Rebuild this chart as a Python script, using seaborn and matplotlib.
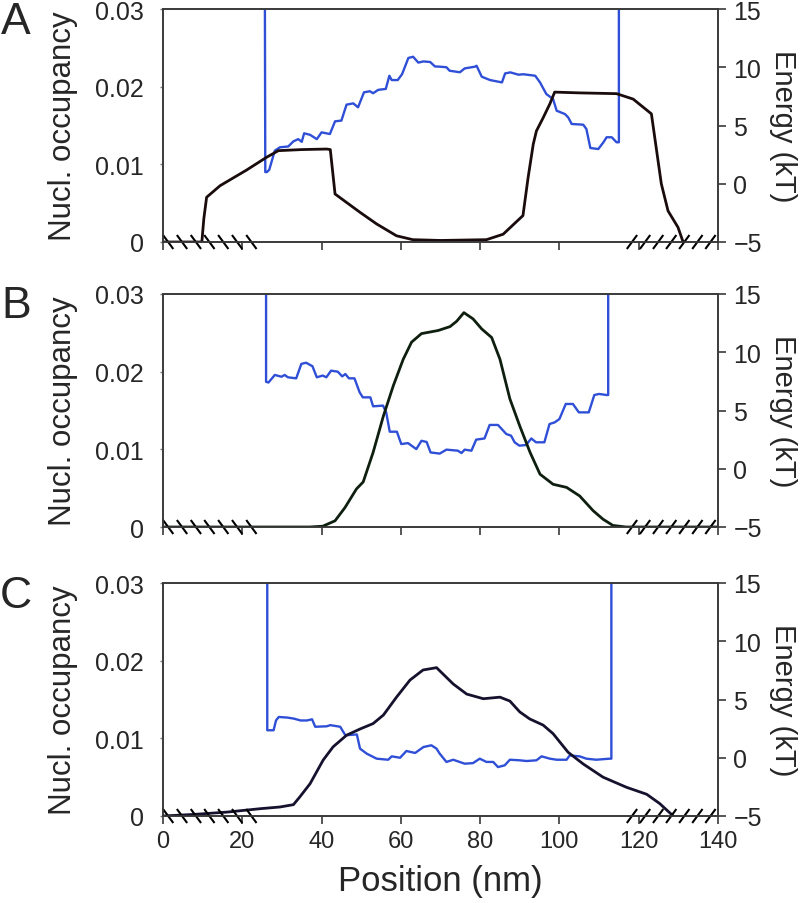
import matplotlib
matplotlib.use("Agg")
import matplotlib.pyplot as plt
import seaborn as sns
import pandas as pd

# ---------------- data ----------------
# Panel A
a_occ_x = [0, 9.8, 10.3, 11.0, 14.4, 21.1, 26.1, 29.1, 35.0, 41.3, 42.2, 43.4, 49.7, 53.9, 58.9, 63.0,
           70.0, 81.6, 85.8, 90.8, 92.1, 93.4, 94.2, 95.9, 97.6, 98.8, 105.0, 114.4, 118.6, 123.2,
           125.7, 127.4, 129.9, 131.2]
a_occ_y = [0, 0, 0.003, 0.00576, 0.00725, 0.00927, 0.0109, 0.01176, 0.0119, 0.01197, 0.0119, 0.00618,
           0.00382, 0.00232, 0.0008, 0.0003, 0.0002, 0.0003, 0.001, 0.0034, 0.0083, 0.0126, 0.0143,
           0.016, 0.0178, 0.0193, 0.0192, 0.0191, 0.0184, 0.0165, 0.0075, 0.004, 0.0019, 0]
a_en_x = [25.7, 25.8, 26.2, 26.8, 28.2, 29.5, 31.6, 32.9, 34.1, 35.0, 35.6, 37.1, 38.8, 40.0, 42.1,
          43.4, 45.0, 46.3, 48.0, 49.2, 50.7, 52.2, 53.0, 54.3, 56.2, 57.1, 57.7, 59.2, 60.3, 61.9,
          63.1, 64.4, 65.7, 67.4, 68.6, 69.8, 71.5, 72.3, 74.9, 76.1, 78.7, 79.1, 80.4, 82.5, 85.5,
          86.3, 87.6, 89.7, 90.9, 93.9, 95.1, 96.7, 98.4, 99.3, 101.4, 102.2, 103.1, 106.0, 106.8,
          107.8, 109.8, 111.1, 111.9, 113.2, 114.4, 115.0, 115.0]
a_en_y = [16, 1.0, 1.0, 1.2, 2.84, 3.13, 3.2, 3.64, 3.83, 3.6, 4.33, 4.2, 3.83, 4.41, 4.27, 5.36,
          5.42, 6.79, 6.9, 6.56, 7.85, 7.94, 7.77, 8.06, 8.14, 9.27, 8.9, 8.9, 9.4, 10.8, 10.9, 10.4,
          10.5, 10.45, 10.07, 10.05, 10.0, 9.7, 9.57, 9.9, 10.05, 10.13, 9.19, 8.9, 8.7, 9.47, 9.56,
          9.36, 9.4, 9.27, 8.7, 7.7, 7.27, 6.27, 5.98, 5.7, 5.13, 5.07, 4.7, 3.07, 2.98, 3.56, 3.99,
          3.99, 3.56, 3.56, 16]

# Panel B
b_occ_x = [0, 37.0, 40.3, 43.4, 45.9, 48.8, 50.5, 53.0, 55.6, 58.1, 60.6, 62.7, 65.2, 69.4, 72.4,
           74.1, 75.9, 78.2, 80.4, 82.9, 85.0, 87.5, 90.0, 92.6, 95.1, 98.4, 101.8, 105.1, 108.5,
           111.0, 113.5, 116.8, 140]
b_occ_y = [0, 0, 0.0001, 0.0008, 0.0025, 0.0049, 0.0058, 0.0096, 0.0143, 0.0182, 0.0216, 0.0238,
           0.0249, 0.0253, 0.0258, 0.0265, 0.0276, 0.0268, 0.0255, 0.0244, 0.0216, 0.0165, 0.0130,
           0.0096, 0.0068, 0.0055, 0.0051, 0.004, 0.0021, 0.001, 0.0002, 0, 0]
b_en_x = [26.0, 26.0, 26.6, 28.2, 29.9, 30.7, 31.5, 33.6, 34.9, 36.1, 37.7, 38.8, 40.3, 41.2, 42.4,
          44.1, 45.2, 46.0, 46.9, 48.3, 49.6, 50.4, 52.3, 53.0, 55.5, 56.3, 57.2, 59.0, 60.1, 61.8,
          63.9, 65.2, 66.5, 67.5, 69.8, 71.5, 74.4, 75.3, 76.1, 77.8, 79.0, 81.1, 82.4, 84.5, 86.6,
          87.8, 88.7, 89.9, 91.6, 92.9, 94.1, 96.2, 97.5, 98.8, 100.0, 101.6, 103.4, 104.9, 107.4,
          108.8, 110.0, 111.9, 112.3, 112.3]
b_en_y = [16, 7.47, 7.4, 8.05, 7.9, 8.05, 7.85, 7.76, 9.0, 9.1, 8.8, 7.85, 8.0, 7.85, 8.42, 8.33,
          7.93, 8.13, 7.76, 7.76, 6.56, 6.13, 6.13, 5.36, 5.42, 4.84, 3.18, 3.18, 2.12, 2.2, 1.69,
          2.4, 2.3, 1.4, 1.3, 1.64, 1.55, 1.35, 1.64, 1.55, 2.5, 2.6, 3.76, 3.76, 2.98, 2.84, 2.27,
          1.98, 2.04, 2.6, 2.27, 2.27, 3.84, 3.98, 4.27, 5.56, 5.56, 4.84, 4.84, 6.33, 6.42, 6.33,
          6.33, 16]

# Panel C
c_occ_x = [0, 7.6, 16.1, 24.5, 29.5, 32.9, 34.5, 37.1, 40.4, 42.9, 46.3, 49.7, 53.0, 55.6, 58.9,
           62.3, 65.6, 69.0, 73.2, 76.6, 80.8, 85.0, 87.5, 90.0, 92.5, 95.9, 98.4, 102.2, 106.0,
           111.0, 116.9, 122.0, 125.3, 128.7]
c_occ_y = [0, 0.0002, 0.0005, 0.00094, 0.00116, 0.00146, 0.00245, 0.00416, 0.0072, 0.0089, 0.0104,
           0.0112, 0.0119, 0.013, 0.0153, 0.0175, 0.0188, 0.0191, 0.017, 0.0157, 0.0151, 0.0153,
           0.0148, 0.0134, 0.0125, 0.0117, 0.0106, 0.0082, 0.0067, 0.005, 0.0037, 0.0028, 0.0016, 0]
c_en_x = [26.3, 26.3, 27.9, 28.5, 29.2, 31.3, 33.0, 34.7, 36.3, 37.6, 38.4, 41.3, 42.2, 44.7, 46.0,
          48.9, 49.7, 51.4, 53.9, 56.8, 57.7, 59.8, 61.4, 63.6, 65.7, 67.7, 69.0, 69.8, 71.5, 73.2,
          76.1, 78.2, 79.9, 81.6, 83.3, 84.5, 86.2, 87.5, 90.0, 91.7, 94.2, 95.5, 97.6, 99.3, 101.8,
          102.6, 105.1, 106.8, 109.3, 112.6, 113.1, 113.1]
c_en_y = [16, 2.36, 2.36, 3.2, 3.5, 3.45, 3.36, 3.2, 3.2, 3.3, 2.66, 2.7, 2.8, 2.66, 1.93, 2.0,
          0.78, 0.35, -0.08, -0.17, 0.12, 0.0, 0.58, 0.41, 0.92, 1.07, 0.78, 0.35, -0.36, -0.17,
          -0.51, -0.46, -0.08, -0.36, -0.36, -0.8, -0.65, -0.17, -0.22, -0.28, -0.22, 0.12, -0.08,
          -0.17, -0.17, 0.2, 0.12, -0.08, -0.17, -0.08, -0.08, 16]

panel_letters = ["A", "B", "C"]
occ_ticks = [0, 0.01, 0.02, 0.03]
occ_ticklabels = ["0", "0.01", "0.02", "0.03"]
en_ticks = [-5, 0, 5, 10, 15]
x_ticks = [0, 20, 40, 60, 80, 100, 120, 140]
left_hatch = [0, 3.5, 7.0, 10.4, 13.9, 17.4, 21.0]
right_hatch = [117.0, 120.3, 123.6, 126.9, 130.2, 133.5, 136.8]

# ---------------- style ----------------
sns.set_style("white")
plt.rcParams['font.family'] = ['Liberation Sans', 'DejaVu Sans']

BLUE = "#2f4fd6"
occ_colors = ["#1a0c0c", "#0f1f0f", "#16122e"]
SPINE = "#3a3a3a"

fig = plt.figure(figsize=(8.0, 9.04), dpi=100)
W, H = 800.0, 904.0
left_px, right_px = 163, 718
tops = [10, 295, 584]
bottoms = [243, 528, 817]

panels = [
    (a_occ_x, a_occ_y, a_en_x, a_en_y),
    (b_occ_x, b_occ_y, b_en_x, b_en_y),
    (c_occ_x, c_occ_y, c_en_x, c_en_y),
]

for i, (ox, oy, ex, ey) in enumerate(panels):
    ax = fig.add_axes([left_px / W, 1 - bottoms[i] / H,
                       (right_px - left_px) / W, (bottoms[i] - tops[i]) / H])
    ax2 = ax.twinx()

    dfo = pd.DataFrame({"pos": ox, "occ": oy})
    dfe = pd.DataFrame({"pos": ex, "en": ey})
    sns.lineplot(data=dfo, x="pos", y="occ", ax=ax, sort=False, estimator=None,
                 color=occ_colors[i], lw=2.0)
    sns.lineplot(data=dfe, x="pos", y="en", ax=ax2, sort=False, estimator=None,
                 color=BLUE, lw=1.7)

    ax.set_xlim(0, 140)
    ax.set_ylim(0, 0.03)
    ax2.set_ylim(-5, 15)
    ax.set_xticks(x_ticks)
    ax.set_yticks(occ_ticks)
    ax.set_yticklabels(occ_ticklabels)
    ax2.set_yticks(en_ticks)

    for sp in list(ax.spines.values()) + list(ax2.spines.values()):
        sp.set_color(SPINE)
        sp.set_linewidth(1.2)
    ax.tick_params(axis="y", direction="out", length=2, width=1, color="#777777",
                   labelsize=18, pad=12, left=True)
    ax.tick_params(axis="x", direction="out", length=6, width=1.2, color=SPINE,
                   labelsize=17, pad=4, bottom=True)
    ax2.tick_params(axis="y", direction="out", length=6, width=1.2, color=SPINE,
                    labelsize=18, pad=5, right=True)

    if i < 2:
        ax.set_xticklabels([])
        ax.set_xlabel("")
    else:
        ax.set_xticklabels([str(t) for t in x_ticks])
        ax.set_xlabel("Position (nm)", fontsize=25)
        ax.xaxis.set_label_coords(0.5, -0.205)

    ax.set_ylabel("Nucl. occupancy", fontsize=22.5)
    ax.yaxis.set_label_coords(-0.153, 0.5)
    ax2.set_ylabel("Energy (kT)", fontsize=21, rotation=270, va="center")
    ax2.yaxis.set_label_coords(1.117, 0.5)

    # broken-axis hatch marks
    dy = 0.0009
    for hx in left_hatch:
        ax.plot([hx, hx + 2.6], [dy, -dy], color="black", lw=1.5, clip_on=False,
                solid_capstyle="butt")
    for hx in right_hatch:
        ax.plot([hx, hx + 2.6], [-dy, dy], color="black", lw=1.5, clip_on=False,
                solid_capstyle="butt")
    ax.set_zorder(ax2.get_zorder() + 1)
    ax.patch.set_visible(False)

    fig.text(16 / W, 1 - (tops[i] + 12) / H, panel_letters[i], fontsize=32,
             ha="center", va="center")

fig.savefig("out.png", dpi=100)
